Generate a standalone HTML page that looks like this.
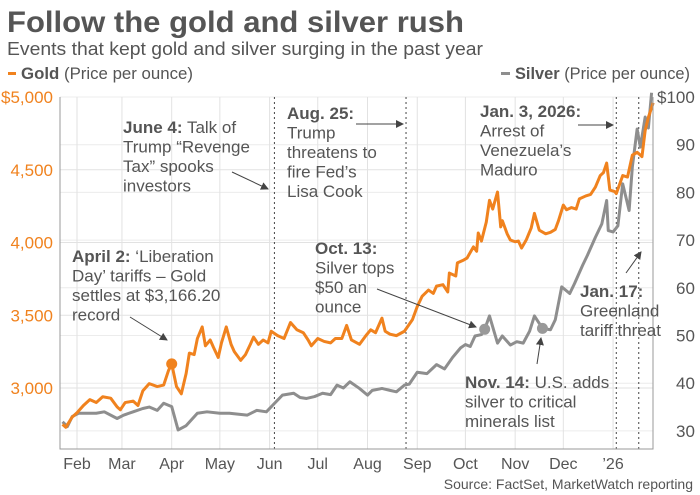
<!DOCTYPE html>
<html><head><meta charset="utf-8"><style>
html,body{margin:0;padding:0;background:#fff;}
svg{display:block;font-family:"Liberation Sans",sans-serif;}
</style></head><body>
<svg id="chart" width="700" height="495" viewBox="0 0 700 495">
<text x="7" y="32" font-size="30" font-weight="bold" fill="#555" textLength="457" lengthAdjust="spacingAndGlyphs">Follow the gold and silver rush</text>
<text x="7" y="55" font-size="18" fill="#555" textLength="476" lengthAdjust="spacingAndGlyphs">Events that kept gold and silver surging in the past year</text>
<g>
<rect x="8" y="72" width="8" height="3" fill="#f0821e"/>
<text x="21" y="79" font-size="17" fill="#555" textLength="172" lengthAdjust="spacingAndGlyphs"><tspan font-weight="bold">Gold</tspan> (Price per ounce)</text>
</g>
<g>
<rect x="501" y="72" width="9" height="3" fill="#8e8e8e"/>
<text x="515" y="79" font-size="17" fill="#555" textLength="175" lengthAdjust="spacingAndGlyphs"><tspan font-weight="bold">Silver</tspan> (Price per ounce)</text>
</g>
<g id="grid"></g>
<g id="events"></g>
<g id="series"></g>
<g id="axes"></g>
<g id="notes" font-size="17" fill="#555"></g>
<text x="693" y="489" font-size="14" fill="#555" text-anchor="end">Source: FactSet, MarketWatch reporting</text>
</svg>
<script>
const goldDays=[22,24,28,31,35,39,43,47,52,56,58,61,66,69,72,76,81,85,88,90,93,96,99,101,104,106,109,111,114,116,119,121,124,127,129,133,136,139,141,144,147,150,152,156,160,164,168,172,175,177,181,185,189,192,196,199,202,207,211,214,217,221,223,226,230,235,240,243,246,250,253,255,259,262,263,267,268,272,274,278,280,281,283,286,288,290,293,295,296,299,301,304,306,308,311,314,316,319,323,326,329,331,334,336,339,342,344,348,351,354,357,359,361,363,366,367,371,374,377,380,383,385,387,390];
const goldValues=[2750,2730,2800,2830,2880,2920,2900,2940,2930,2870,2850,2900,2910,2880,2980,3030,3010,3020,3120,3166,3010,2960,3100,3240,3230,3340,3420,3290,3330,3280,3210,3310,3420,3300,3250,3190,3230,3300,3350,3300,3330,3310,3390,3360,3340,3450,3400,3380,3330,3290,3340,3320,3310,3340,3340,3430,3330,3300,3360,3400,3380,3480,3390,3370,3360,3390,3470,3560,3630,3673,3650,3700,3710,3660,3790,3770,3860,3880,3893,3970,3940,4065,4010,4140,4290,4230,4347,4107,4150,4060,4017,4005,4010,3962,4020,4100,4200,4085,4060,4070,4090,4150,4257,4225,4240,4230,4300,4320,4330,4381,4460,4480,4546,4360,4350,4336,4460,4450,4600,4620,4590,4770,4860,4960];
const silverDays=[22,25,28,32,36,43,48,56,60,66,72,76,81,85,90,94,99,106,112,120,126,137,143,149,153,159,166,170,174,179,184,189,193,197,201,207,212,215,221,226,230,235,238,243,249,255,260,265,270,273,276,279,283,285,288,293,296,301,305,309,313,316,321,326,329,333,338,341,346,349,354,358,361,362,365,368,371,375,377,380,382,385,387,389];
const silverValues=[31.9,30.9,33.0,33.7,33.7,33.7,34.0,32.6,33.3,34.0,34.7,35.0,34.3,35.8,35.1,30.2,31.1,33.7,34.0,33.7,33.7,33.3,34.3,34.0,35.4,37.5,37.9,37.0,36.8,37.2,37.9,37.6,39.6,39.0,40.3,38.9,37.5,38.5,38.9,38.5,38.2,39.6,39.8,42.3,42.0,43.9,43.0,45.4,47.4,48.1,47.7,49.9,50.2,51.3,54.1,48.4,49.9,48.0,48.7,48.4,50.9,54.1,51.5,51.2,53.3,60.2,58.8,60.9,64.7,66.8,70.6,73.4,78.3,72.0,71.7,73.0,81.8,76.2,85.3,93.3,89.5,95.8,93.5,100.9];
const goldTicks=[5000,4500,4000,3500,3000];
const goldTickLabels=["$5,000","4,500","4,000","3,500","3,000"];
const silverTicks=[100,90,80,70,60,50,40,30];
const silverTickLabels=["$100","90","80","70","60","50","40","30"];
const monthDays=[31,59,90,120,151,181,212,243,273,304,334,365];
const monthLabels=["Feb","Mar","Apr","May","Jun","Jul","Aug","Sep","Oct","Nov","Dec","’26"];
const eventDays=[154,236,367,381];
const markerGold=[[90,3166]];
const markerSilver=[[285,51.3],[321,51.5]];

const L=60,R=653,T=97,B=449;
const x=d=>77+(d-31)*1.605;
const yG=v=>97+(5000-v)*0.1455;
const yS=v=>97+(100-v)*4.77;
const NS="http://www.w3.org/2000/svg";
function mk(tag,attrs,parent){const e=document.createElementNS(NS,tag);for(const k in attrs)e.setAttribute(k,attrs[k]);parent.appendChild(e);return e;}
const grid=document.getElementById('grid'),axes=document.getElementById('axes'),series=document.getElementById('series'),events=document.getElementById('events'),notes=document.getElementById('notes');

goldTicks.forEach((v,i)=>{
 const g=mk('line',{x1:L,x2:R,y1:yG(v),y2:yG(v),stroke:'#e2e2e2','stroke-width':1},grid);
 
 
 const t=mk('text',{x:53,y:yG(v)+6,'font-size':17,fill:'#f0821e','text-anchor':'end'},axes);
 t.textContent=goldTickLabels[i];
 
 
});
silverTicks.forEach((v,i)=>{
 const g=mk('line',{x1:L,x2:R,y1:yS(v),y2:yS(v),stroke:'#ececec','stroke-width':1},grid);
 
 
 const t=mk('text',{x:i===0?657:676,y:yS(v)+6,'font-size':17,fill:'#555'},axes);
 t.textContent=silverTickLabels[i];
 
 
});
monthDays.forEach((d,i)=>{
 const g=mk('line',{x1:x(d),x2:x(d),y1:T,y2:B,stroke:'#e2e2e2','stroke-width':1},grid);
 
 
 const t=mk('text',{x:x(d),y:469,'font-size':16,fill:'#555','text-anchor':'middle'},axes);
 t.textContent=monthLabels[i];
 
 
});
eventDays.forEach(d=>{
 const l=mk('line',{x1:x(d),x2:x(d),y1:T,y2:B,stroke:'#444','stroke-width':1,'stroke-dasharray':'2,3'},events);
 
 
});
const ax=mk('path',{d:`M${L},${T}V${B}H${R}V${T}`,fill:'none',stroke:'#999','stroke-width':1},axes);



const sp=mk('polyline',{points:silverDays.map((d,i)=>x(d)+','+yS(silverValues[i])).join(' '),fill:'none',stroke:'#8e8e8e','stroke-width':3,'stroke-linejoin':'round'},series);


const gp=mk('polyline',{points:goldDays.map((d,i)=>x(d)+','+yG(goldValues[i])).join(' '),fill:'none',stroke:'#f0821e','stroke-width':3,'stroke-linejoin':'round'},series);


markerGold.forEach(m=>{
 const c=mk('circle',{cx:x(m[0]),cy:yG(m[1]),r:5.5,fill:'#f0821e'},series);
 
 
});
markerSilver.forEach(m=>{
 const c=mk('circle',{cx:x(m[0]),cy:yS(m[1]),r:5.5,fill:'#999'},series);
 
 
});

const defs=mk('defs',{},document.getElementById('chart'));
const mkr=mk('marker',{id:'ah',markerWidth:8,markerHeight:8,refX:7,refY:4,orient:'auto',markerUnits:'userSpaceOnUse'},defs);
mk('path',{d:'M0,0L8,4L0,8z',fill:'#444'},mkr);

function note(name,xx,yy,lines,arrow){
 const g=mk('g',{},notes);
 
 
 lines.forEach((ln,i)=>{
  const t=mk('text',{x:xx,y:yy+i*19.5},g);
  if(i===0){const b=mk('tspan',{'font-weight':'bold'},t);b.textContent=ln[0];const r=mk('tspan',{},t);r.textContent=ln[1]||'';}
  else t.textContent=ln;
 });
 const a=mk('line',{x1:arrow[0],y1:arrow[1],x2:arrow[2],y2:arrow[3],stroke:'#444','stroke-width':1,'marker-end':'url(#ah)'},g);
 
 
}
note('annotation-june-4',123,133,[["June 4:"," Talk of"],"Trump “Revenge","Tax” spooks","investors"],[232,172,268,189]);
note('annotation-april-2',72,262,[["April 2:"," ‘Liberation"],"Day’ tariffs – Gold","settles at $3,166.20","record"],[130,317,167,340]);
note('annotation-aug-25',287,119,[["Aug. 25:",""],"Trump","threatens to","fire Fed’s","Lisa Cook"],[356,124,403,124]);
note('annotation-oct-13',315,254,[["Oct. 13:",""],"Silver tops","$50 an","ounce"],[377,289,476,327]);
note('annotation-jan-3',480,117,[["Jan. 3, 2026:",""],"Arrest of","Venezuela’s","Maduro"],[578,125,613,125]);
note('annotation-nov-14',465,388,[["Nov. 14:"," U.S. adds"],"silver to critical","minerals list"],[537,364,541,338]);
note('annotation-jan-17',580,297,[["Jan. 17:",""],"Greenland","tariff threat"],[626,273,641,252]);
</script>
</body></html>
